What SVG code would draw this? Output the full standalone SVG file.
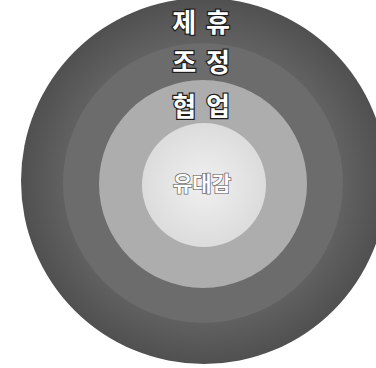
<svg xmlns="http://www.w3.org/2000/svg" width="376" height="368" viewBox="0 0 376 368">
  <style>
    .lbl { font-family: "Noto Sans CJK KR", "Noto Sans", sans-serif; font-weight: bold; font-size: 26px; fill: #ffffff; stroke: #1e1e1e; stroke-width: 2.5; paint-order: stroke; letter-spacing: 2px; text-anchor: middle; }
    .core { font-family: "Noto Sans CJK KR", "Noto Sans", sans-serif; font-weight: bold; font-size: 21px; fill: #ffffff; stroke: #6a6a6a; stroke-width: 1.5; paint-order: stroke; text-anchor: middle; }
  </style>
  <defs>
    <radialGradient id="gOuter" cx="0.5" cy="0.5" r="0.5">
      <stop offset="0.75" stop-color="#626262"/>
      <stop offset="1" stop-color="#505050"/>
    </radialGradient>
    <radialGradient id="gCore" cx="0.5" cy="0.5" r="0.5">
      <stop offset="0" stop-color="#f0f0f0"/>
      <stop offset="1" stop-color="#dcdcdc"/>
    </radialGradient>
  </defs>
  <rect width="376" height="368" fill="#ffffff"/>
  <g id="ring-jehyu">
    <circle cx="204" cy="181" r="183" fill="url(#gOuter)"/>
    <text class="lbl" x="202" y="32">제 휴</text>
  </g>
  <g id="ring-jojeong">
    <circle cx="203" cy="183" r="140" fill="#6c6c6c"/>
    <text class="lbl" x="202" y="72">조 정</text>
  </g>
  <g id="ring-hyeobeop">
    <circle cx="203" cy="184" r="104" fill="#adadad"/>
    <text class="lbl" x="202" y="116">협 업</text>
  </g>
  <g id="core-yudaegam">
    <circle cx="204" cy="185" r="62" fill="url(#gCore)"/>
    <text class="core" x="202" y="191">유대감</text>
  </g>
  <g id="connectors"/>
</svg>
